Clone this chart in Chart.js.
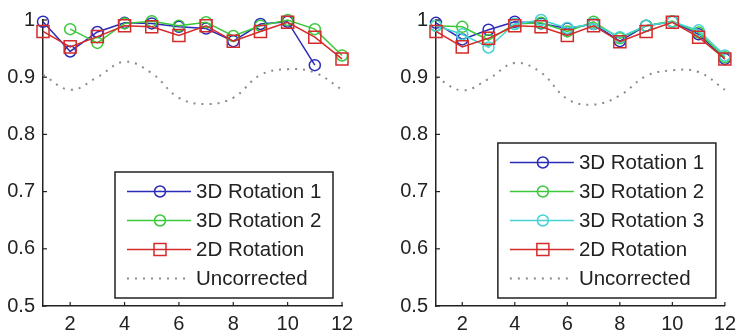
<!DOCTYPE html>
<html>
<head>
<meta charset="utf-8">
<script src="https://cdn.jsdelivr.net/npm/chart.js@4.4.1/dist/chart.umd.min.js"></script>
<style>
  html, body { margin: 0; padding: 0; background: #fff; }
  .painel { position: absolute; top: 0; height: 336px; }
  #painelEsq { left: 0; width: 370px; }
  #painelDir { left: 370px; width: 372px; }
</style>
</head>
<body>
<div class="painel" id="painelEsq"><canvas id="chartEsq"></canvas></div>
<div class="painel" id="painelDir"><canvas id="chartDir"></canvas></div>
<script>
// Eixos
var posicoes = [1, 2, 3, 4, 5, 6, 7, 8, 9, 10, 11, 12];
var ticksX = [2, 4, 6, 8, 10, 12];
var ticksY = [0.5, 0.6, 0.7, 0.8, 0.9, 1];

// Painel esquerdo
var esqRotacao3D1 = [0.997, 0.945, 0.979, 0.995, 0.994, 0.988, 0.985, 0.963, 0.993, 0.997, 0.921, null];
var esqRotacao3D2 = [null, 0.984, 0.960, 0.994, 0.998, 0.990, 0.996, 0.972, 0.990, 1.0, 0.984, 0.938];
var esqRotacao2D = [0.980, 0.953, 0.971, 0.990, 0.988, 0.973, 0.990, 0.963, 0.980, 0.996, 0.970, 0.932];
var esqSemCorrecao = [0.904, 0.878, 0.900, 0.927, 0.907, 0.864, 0.853, 0.864, 0.904, 0.914, 0.908, 0.878];

// Painel direito
var dirRotacao3D1 = [0.995, 0.966, 0.983, 0.997, 0.994, 0.985, 0.993, 0.963, 0.990, 0.997, 0.975, 0.932];
var dirRotacao3D2 = [0.990, 0.988, 0.965, 0.993, 0.995, 0.980, 0.997, 0.968, 0.990, 0.998, 0.978, 0.935];
var dirRotacao3D3 = [0.990, 0.975, 0.952, 0.993, 1.0, 0.986, 0.993, 0.970, 0.990, 0.997, 0.982, 0.938];
var dirRotacao2D = [0.980, 0.953, 0.968, 0.990, 0.988, 0.973, 0.990, 0.962, 0.980, 0.996, 0.970, 0.932];
var dirSemCorrecao = [0.900, 0.877, 0.897, 0.925, 0.908, 0.862, 0.852, 0.868, 0.902, 0.912, 0.909, 0.878];

var fonte = "Liberation Sans";
var corTexto = "#222";

function pontos(valores) {
  return posicoes.map(function (x, i) {
    return { x: x, y: valores[i] };
  });
}

function serie(label, valores, cor, estilo) {
  return {
    label: label,
    data: pontos(valores),
    borderColor: cor,
    borderWidth: 1.5,
    pointStyle: estilo,
    pointRadius: estilo == "rect" ? 8.5 : 5.5,
    pointBorderColor: cor,
    pointBackgroundColor: "rgba(0,0,0,0)",
    pointBorderWidth: 1.5,
    tension: 0,
    clip: false,
  };
}

function serieTracejada(label, valores) {
  return {
    label: label,
    data: pontos(valores),
    borderColor: "#8a8a8a",
    borderWidth: 2,
    borderDash: [2, 6],
    pointRadius: 0,
    tension: 0.4,
    clip: false,
  };
}

// Legenda desenhada dentro da area do grafico
var legendaInterna = {
  id: "legendaInterna",
  afterDraw: function (chart) {
    var ctx = chart.ctx;
    var area = chart.chartArea;
    var sets = chart.data.datasets;
    var largura = 218;
    var altura = sets.length * 29 + 10;
    var x0 = area.right - 9 - largura;
    var y0 = area.bottom - 8 - altura;
    ctx.save();
    ctx.fillStyle = "#fff";
    ctx.fillRect(x0, y0, largura, altura);
    ctx.strokeStyle = corTexto;
    ctx.lineWidth = 1.5;
    ctx.strokeRect(x0, y0, largura, altura);
    for (var i = 0; i < sets.length; i++) {
      var ds = sets[i];
      var yy = y0 + 19.5 + 29 * i;
      ctx.strokeStyle = ds.borderColor;
      ctx.lineWidth = ds.borderWidth;
      ctx.setLineDash(ds.borderDash || []);
      ctx.beginPath();
      ctx.moveTo(x0 + 12, yy);
      ctx.lineTo(x0 + 76, yy);
      ctx.stroke();
      ctx.setLineDash([]);
      if (ds.pointRadius > 0) {
        ctx.lineWidth = ds.pointBorderWidth;
        ctx.beginPath();
        if (ds.pointStyle == "rect") {
          var lado = ds.pointRadius * Math.SQRT1_2;
          ctx.rect(x0 + 45 - lado, yy - lado, lado * 2, lado * 2);
        } else {
          ctx.arc(x0 + 45, yy, ds.pointRadius, 0, Math.PI * 2);
        }
        ctx.stroke();
      }
      ctx.fillStyle = corTexto;
      ctx.font = "20.5px '" + fonte + "'";
      ctx.textAlign = "left";
      ctx.textBaseline = "middle";
      ctx.fillText(ds.label, x0 + 81, yy + 1);
    }
    ctx.restore();
  },
};

// Ticks para dentro, como no original
var ticksInternos = {
  id: "ticksInternos",
  afterDraw: function (chart) {
    var ctx = chart.ctx;
    var area = chart.chartArea;
    var sx = chart.scales.x;
    var sy = chart.scales.y;
    ctx.save();
    ctx.strokeStyle = corTexto;
    ctx.lineWidth = 1.2;
    ticksX.forEach(function (v) {
      var p = sx.getPixelForValue(v);
      ctx.beginPath();
      ctx.moveTo(p, area.bottom);
      ctx.lineTo(p, area.bottom - 4);
      ctx.stroke();
    });
    ticksY.forEach(function (v) {
      var p = sy.getPixelForValue(v);
      ctx.beginPath();
      ctx.moveTo(area.left, p);
      ctx.lineTo(area.left + 4, p);
      ctx.stroke();
    });
    ctx.restore();
  },
};

function criarGrafico(id, datasets, larguraY, direita) {
  datasets.forEach(function (ds, i) {
    ds.order = datasets.length - i;
  });
  return new Chart(document.getElementById(id), {
    type: "line",
    data: { datasets: datasets },
    options: {
      responsive: true,
      maintainAspectRatio: false,
      animation: false,
      layout: { padding: { top: 16, right: direita, left: 0, bottom: 0 } },
      plugins: {
        legend: { display: false },
        tooltip: { enabled: false },
      },
      scales: {
        x: {
          type: "linear",
          min: 1,
          max: 12,
          afterBuildTicks: function (s) {
            s.ticks = ticksX.map(function (v) {
              return { value: v };
            });
          },
          afterFit: function (s) {
            s.height = 30;
          },
          grid: { display: true, drawOnChartArea: false, drawTicks: false },
          border: { display: true, color: corTexto, width: 1.5 },
          ticks: {
            color: corTexto,
            font: { family: fonte, size: 20 },
            padding: 6,
            maxRotation: 0,
            autoSkip: false,
          },
        },
        y: {
          type: "linear",
          min: 0.5,
          max: 1,
          afterBuildTicks: function (s) {
            s.ticks = ticksY.map(function (v) {
              return { value: v };
            });
          },
          afterFit: function (s) {
            s.width = larguraY;
          },
          grid: { display: true, drawOnChartArea: false, drawTicks: false },
          border: { display: true, color: corTexto, width: 1.5 },
          ticks: {
            color: corTexto,
            font: { family: fonte, size: 20 },
            padding: 8,
            autoSkip: false,
            callback: function (v) {
              return String(v);
            },
          },
        },
      },
    },
    plugins: [ticksInternos, legendaInterna],
  });
}

criarGrafico(
  "chartEsq",
  [
    serie("3D Rotation 1", esqRotacao3D1, "#2b2bb8", "circle"),
    serie("3D Rotation 2", esqRotacao3D2, "#3cc83c", "circle"),
    serie("2D Rotation", esqRotacao2D, "#d42a2a", "rect"),
    serieTracejada("Uncorrected", esqSemCorrecao),
  ],
  43,
  28
);

criarGrafico(
  "chartDir",
  [
    serie("3D Rotation 1", dirRotacao3D1, "#2b2bb8", "circle"),
    serie("3D Rotation 2", dirRotacao3D2, "#3cc83c", "circle"),
    serie("3D Rotation 3", dirRotacao3D3, "#45d2d2", "circle"),
    serie("2D Rotation", dirRotacao2D, "#d42a2a", "rect"),
    serieTracejada("Uncorrected", dirSemCorrecao),
  ],
  66,
  9
);
</script>
</body>
</html>
